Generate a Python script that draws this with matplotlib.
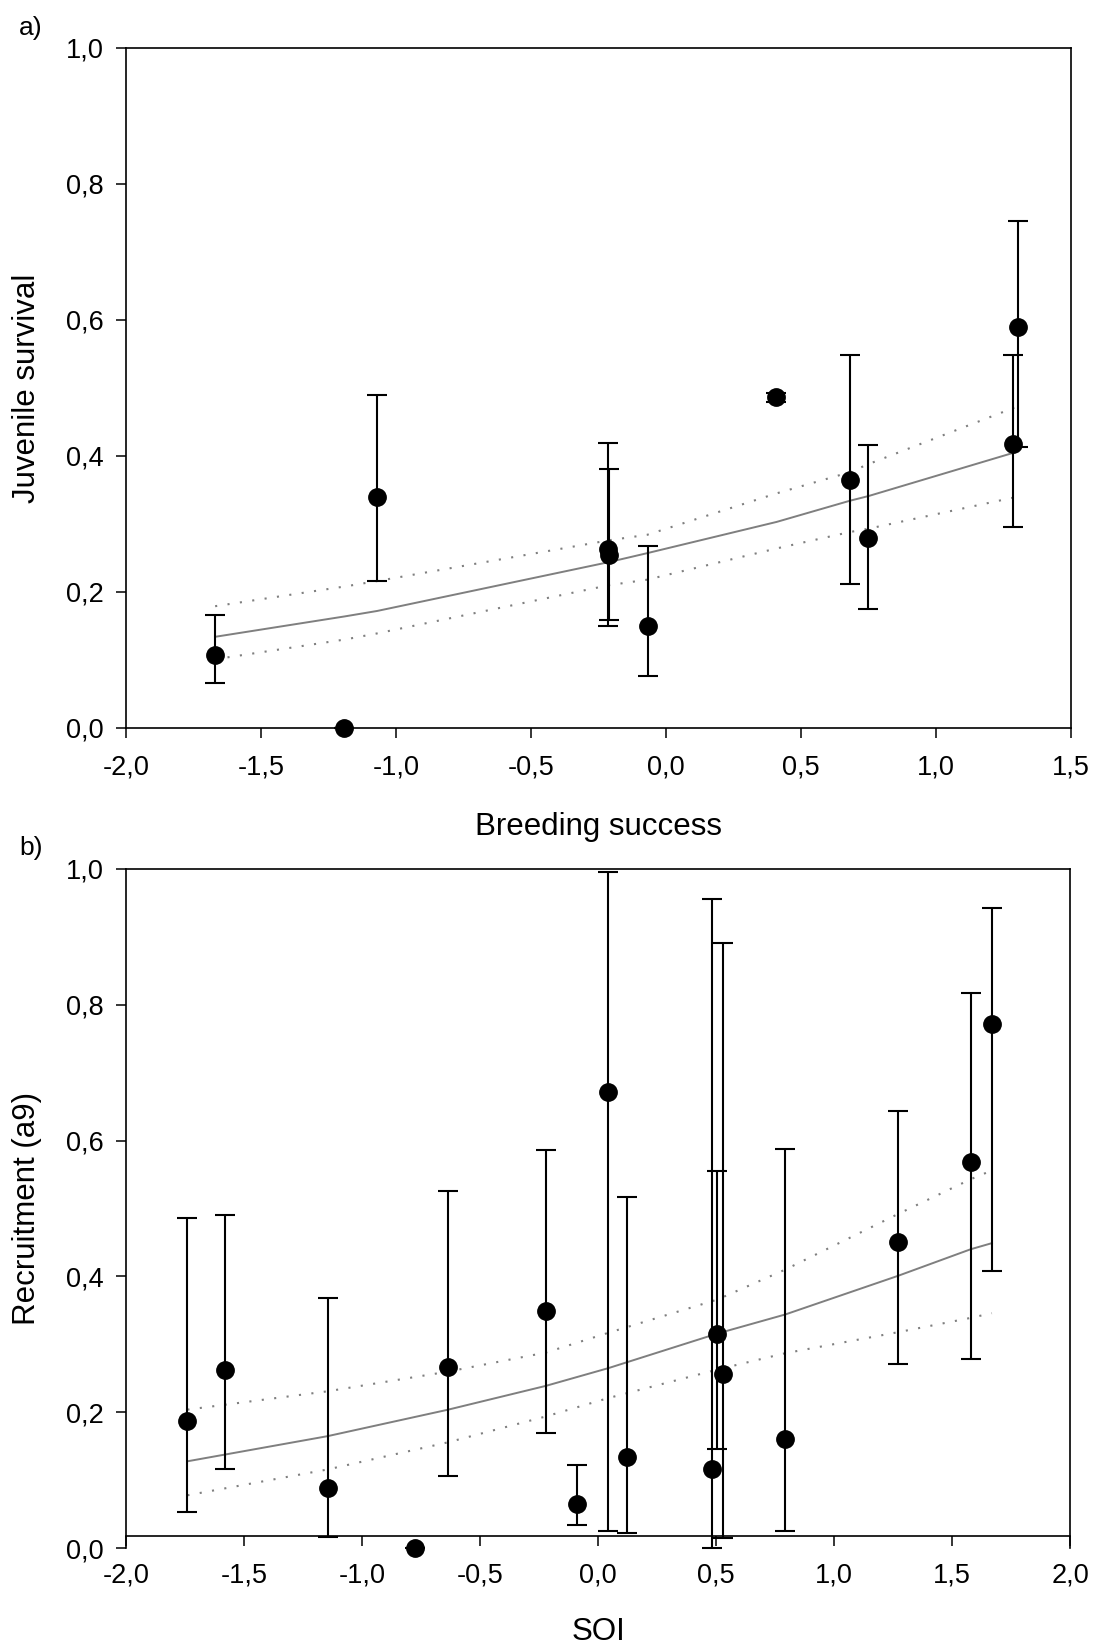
import numpy as np
import matplotlib
matplotlib.use("Agg")
import matplotlib.pyplot as plt

plt.rcParams['font.family'] = ['Liberation Sans', 'DejaVu Sans']

# ---- panel a: juvenile survival vs breeding success ----
bs_x = [-1.670, -1.193, -1.070, -0.215, -0.210, -0.067, 0.407, 0.683, 0.749, 1.286, 1.303]
surv = [0.107, 0.000, 0.340, 0.263, 0.255, 0.150, 0.486, 0.364, 0.280, 0.417, 0.590]
surv_lo = [0.066, 0.000, 0.216, 0.150, 0.159, 0.077, 0.480, 0.212, 0.175, 0.295, 0.413]
surv_hi = [0.166, 0.000, 0.490, 0.419, 0.381, 0.267, 0.492, 0.549, 0.416, 0.549, 0.746]

fit_a_x = [-1.67, -1.19, -1.07, -0.21, -0.07, 0.41, 0.68, 0.75, 1.29]
fit_a = [0.134, 0.164, 0.172, 0.244, 0.257, 0.303, 0.334, 0.341, 0.405]
fit_a_up = [0.179, 0.208, 0.216, 0.276, 0.284, 0.345, 0.376, 0.388, 0.471]
fit_a_lo = [0.101, 0.130, 0.139, 0.210, 0.218, 0.264, 0.288, 0.293, 0.339]

# ---- panel b: recruitment vs SOI ----
soi_x = [-1.740, -1.580, -1.146, -0.775, -0.635, -0.221, -0.089, 0.043,
         0.123, 0.485, 0.506, 0.531, 0.793, 1.272, 1.579, 1.669]
recr = [0.187, 0.262, 0.088, 0.000, 0.267, 0.349, 0.065, 0.671,
        0.135, 0.116, 0.316, 0.256, 0.161, 0.451, 0.568, 0.771]
recr_lo = [0.053, 0.116, 0.016, 0.000, 0.107, 0.169, 0.034, 0.025,
           0.023, 0.001, 0.146, 0.015, 0.025, 0.271, 0.278, 0.408]
recr_hi = [0.486, 0.491, 0.369, 0.000, 0.525, 0.586, 0.123, 0.995,
           0.517, 0.955, 0.555, 0.891, 0.587, 0.644, 0.817, 0.942]

fit_b_x = [-1.74, -1.146, -0.635, -0.221, 0.043, 0.506, 0.793, 1.272, 1.579, 1.669]
fit_b = [0.128, 0.165, 0.204, 0.239, 0.265, 0.316, 0.344, 0.401, 0.440, 0.449]
fit_b_up = [0.204, 0.231, 0.260, 0.288, 0.317, 0.366, 0.410, 0.492, 0.543, 0.556]
fit_b_lo = [0.078, 0.116, 0.156, 0.194, 0.221, 0.263, 0.287, 0.318, 0.339, 0.346]

xt_a = [-2.0, -1.5, -1.0, -0.5, 0.0, 0.5, 1.0, 1.5]
xt_b = [-2.0, -1.5, -1.0, -0.5, 0.0, 0.5, 1.0, 1.5, 2.0]
yt = [0.0, 0.2, 0.4, 0.6, 0.8, 1.0]


def comma(v):
    return f"{v:.1f}".replace('.', ',')


def panel(ax, x, y, lo, hi, fx, fy, fup, flo, xticks, xlabel, ylabel):
    y = np.array(y)
    yerr = [y - np.array(lo), np.array(hi) - y]
    ax.plot(fx, fy, color='#7f7f7f', lw=1.4, zorder=2)
    ax.plot(fx, fup, color='#7f7f7f', lw=1.5, ls=(0, (1, 5)), zorder=2)
    ax.plot(fx, flo, color='#7f7f7f', lw=1.5, ls=(0, (1, 5)), zorder=2)
    ax.errorbar(x, y, yerr=yerr, fmt='o', color='black', ms=12.5,
                ecolor='black', elinewidth=1.5, capsize=7.5, capthick=1.5,
                zorder=3, clip_on=False)
    ax.set_xlim(xticks[0], xticks[-1])
    ax.set_ylim(0, 1)
    ax.set_xticks(xticks)
    ax.set_xticklabels([comma(v) for v in xticks])
    ax.set_yticks(yt)
    ax.set_yticklabels([comma(v) for v in yt])
    ax.tick_params(axis='x', direction='out', length=7.5, width=1.1,
                   labelsize=19.5, pad=11.5)
    ax.tick_params(axis='y', direction='out', length=7.5, width=1.1,
                   labelsize=19.5, pad=8.5)
    for s in ax.spines.values():
        s.set_linewidth(1.2)
    ax.set_xlabel(xlabel, fontsize=22.5)
    ax.set_ylabel(ylabel, fontsize=22.5)
    ax.yaxis.set_label_coords(-0.089, 0.5)


fig = plt.figure(figsize=(10.96, 16.48), dpi=100)
ax_a = fig.add_axes([0.115, 0.5583, 0.8622, 0.4126])
ax_b = fig.add_axes([0.115, 0.0605, 0.8613, 0.4124])

panel(ax_a, bs_x, surv, surv_lo, surv_hi, fit_a_x, fit_a, fit_a_up, fit_a_lo,
      xt_a, 'Breeding success', 'Juvenile survival')
ax_a.xaxis.set_label_coords(0.5, -0.1235)

panel(ax_b, soi_x, recr, recr_lo, recr_hi, fit_b_x, fit_b, fit_b_up, fit_b_lo,
      xt_b, 'SOI', 'Recruitment (a9)')
ax_b.spines['bottom'].set_position(('data', 0.018))
ax_b.xaxis.set_label_coords(0.5, -0.101)

fig.text(19 / 1096, 1 - 16 / 1648, 'a)', fontsize=19, va='top', ha='left')
fig.text(19 / 1096, 1 - 836 / 1648, 'b)', fontsize=19, va='top', ha='left')

fig.savefig('out.png', dpi=100)
